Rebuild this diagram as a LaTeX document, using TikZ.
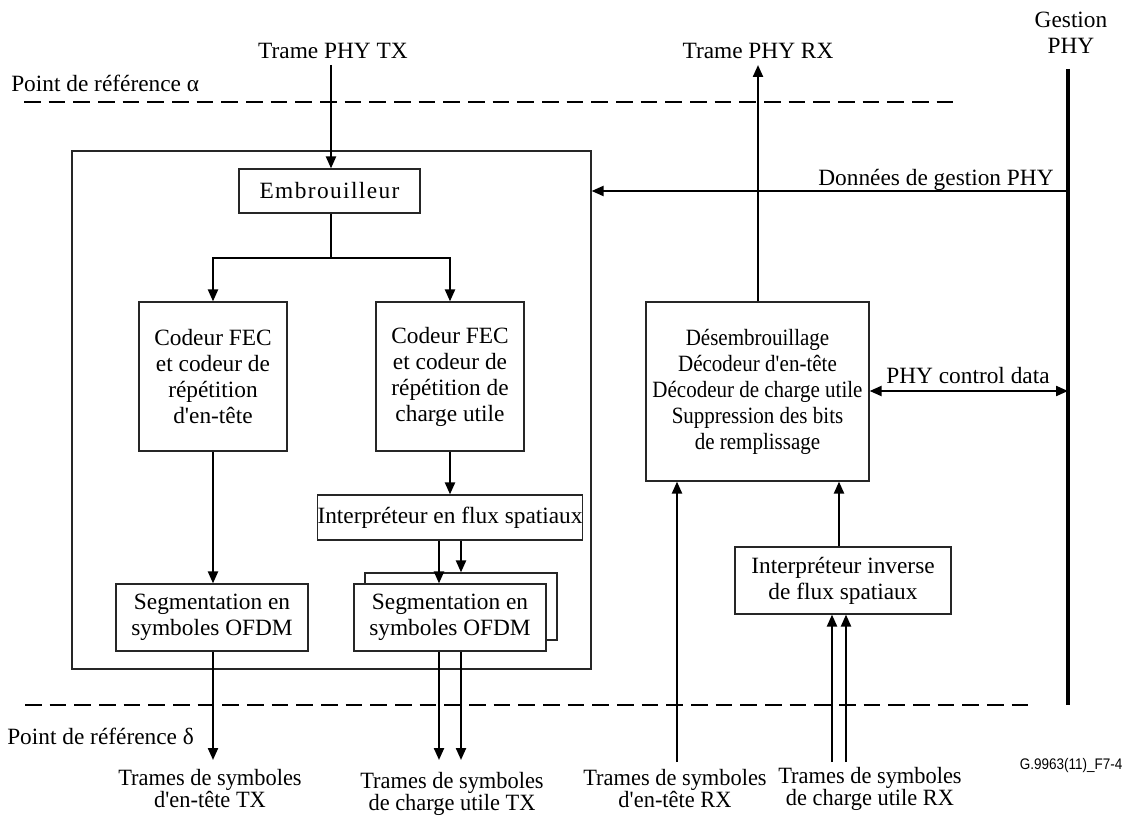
\documentclass[tikz,border=0pt]{standalone}
\usepackage{fontspec}
\setmainfont{Liberation Serif}
\newfontfamily\condfont[FakeStretch=0.9]{Liberation Serif}
\newfontfamily\labfont[FakeStretch=0.96]{Liberation Serif}
\newfontfamily\spacedfont[LetterSpace=6]{Liberation Serif}
\newfontfamily\smallsans[FakeStretch=0.88]{Liberation Sans}
\usetikzlibrary{arrows.meta}
\begin{document}
\begin{tikzpicture}[x=0.75pt,y=-0.75pt,
 every node/.style={font=\fontsize{17.5}{19.5}\selectfont, inner sep=0pt},
 box/.style={draw=black!85, line width=0.9pt, align=center},
 conn/.style={line width=1.65pt},
 arr/.style={conn,-{Triangle[length=9pt,width=7.5pt]}},
 darr/.style={conn,{Triangle[length=9pt,width=7.5pt]}-{Triangle[length=9pt,width=7.5pt]}},
 refline/.style={line width=2.2pt, dash pattern=on 12.5pt off 6pt},
 outlbl/.style={align=center, font=\labfont\fontsize{17.5}{16.5}\selectfont}]
\useasboundingbox (0,0) rectangle (1131,816);

% boxes
\node[box, minimum width=389.25pt, minimum height=388.5pt] (outer) at (331.5,410) {};
\node[box, minimum width=135.75pt, minimum height=33pt, font=\spacedfont\fontsize{17.5}{19.5}\selectfont] (emb) at (329.5,191) {Embrouilleur};
\node[box, minimum width=111pt, minimum height=111.75pt] (codL) at (213,376.5) {Codeur FEC\\et codeur de\\répétition\\d\textquotesingle en-tête};
\node[box, minimum width=111pt, minimum height=111.75pt] (codR) at (450,376.5) {Codeur FEC\\et codeur de\\répétition de\\charge utile};
\node[box, minimum width=192pt, minimum height=33.75pt] (interp) at (450,517.5) {Interpréteur en flux spatiaux};
\node[box, fill=white, minimum width=144pt, minimum height=50.25pt] (segB) at (461,606.5) {};
\node[box, fill=white, minimum width=144pt, minimum height=50.25pt] (segF) at (450,617.5) {Segmentation en\\symboles OFDM};
\node[box, minimum width=144pt, minimum height=50.25pt] (segL) at (212,617.5) {Segmentation en\\symboles OFDM};
\node[box, minimum width=167.25pt, minimum height=134.25pt, font=\condfont\fontsize{17.5}{19.5}\selectfont] (desemb) at (757.5,391.5) {Désembrouillage\\Décodeur d\textquotesingle en-tête\\Décodeur de charge utile\\Suppression des bits\\de remplissage};
\node[box, minimum width=162pt, minimum height=50.25pt] (inv) at (843,580.5) {Interpréteur inverse\\de flux spatiaux};

% labels
\node (txl) at (333,51) {Trame PHY TX};
\node (rxl) at (758,51) {Trame PHY RX};
\node[align=center] (gest) at (1071,33) {Gestion\\PHY};
\node[anchor=west] (alpha) at (11,83) {Point de référence α};
\node[anchor=west] (delta) at (7,736) {Point de référence δ};
\node (gdl) at (936,180) {Données de gestion PHY};
\node (pcl) at (968,376) {PHY control data};
\node[outlbl] (o1) at (210,789) {Trames de symboles\\d\textquotesingle en-tête TX};
\node[outlbl] (o2) at (452,794) {Trames de symboles\\de charge utile TX};
\node[outlbl] (o3) at (675,789) {Trames de symboles\\d\textquotesingle en-tête RX};
\node[outlbl] (o4) at (870,789) {Trames de symboles\\de charge utile RX};
\node[font=\smallsans\fontsize{11.5}{13}\selectfont] (ref) at (1071,766) {G.9963(11)\_F7-4};

% reference lines
\coordinate (a0) at (24,102); \coordinate (a1) at (953,102);
\draw[refline] (a0) -- (a1);
\coordinate (d0) at (25,705); \coordinate (d1) at (1032,705);
\draw[refline] (d0) -- (d1);

% TX path
\coordinate (txs) at (331,65);
\draw[arr] (txs) -- (emb.north -| txs);
\coordinate (br) at (331,258);
\draw[conn] (emb.south -| br) -- (br);
\draw[arr] (br) -| (codL.north);
\draw[arr] (br) -| (codR.north);
\draw[arr] (codL.south) -- (segL.north -| codL.south);
\draw[arr] (codR.south) -- (interp.north);
\coordinate (s1) at (439,0); \coordinate (s2) at (461,0);
\draw[arr] (interp.south -| s1) -- (segF.north -| s1);
\draw[arr] (interp.south -| s2) -- (segB.north -| s2);
\coordinate (oL) at (213,760); \coordinate (oA) at (439,760); \coordinate (oB) at (461,760);
\draw[arr] (segL.south -| oL) -- (oL);
\draw[arr] (segF.south -| oA) -- (oA);
\draw[arr] (segF.south -| oB) -- (oB);

% RX path
\coordinate (rxt) at (758,65);
\draw[arr] (desemb.north -| rxt) -- (rxt);
\coordinate (iL) at (677,762);
\draw[arr] (iL) -- (desemb.south -| iL);
\coordinate (mid) at (839,0);
\draw[arr] (inv.north -| mid) -- (desemb.south -| mid);
\coordinate (iA) at (832,762); \coordinate (iB) at (846,762);
\draw[arr] (iA) -- (inv.south -| iA);
\draw[arr] (iB) -- (inv.south -| iB);

% management
\coordinate (gt) at (1068,69); \coordinate (gb) at (1068,705);
\draw[line width=2.4pt] (gt) -- (gb);
\coordinate (gd) at (1068,191);
\draw[arr] (gd) -- (outer.east |- gd);
\coordinate (pc) at (1068,391);
\draw[darr] (desemb.east |- pc) -- (pc);
\end{tikzpicture}
\end{document}
